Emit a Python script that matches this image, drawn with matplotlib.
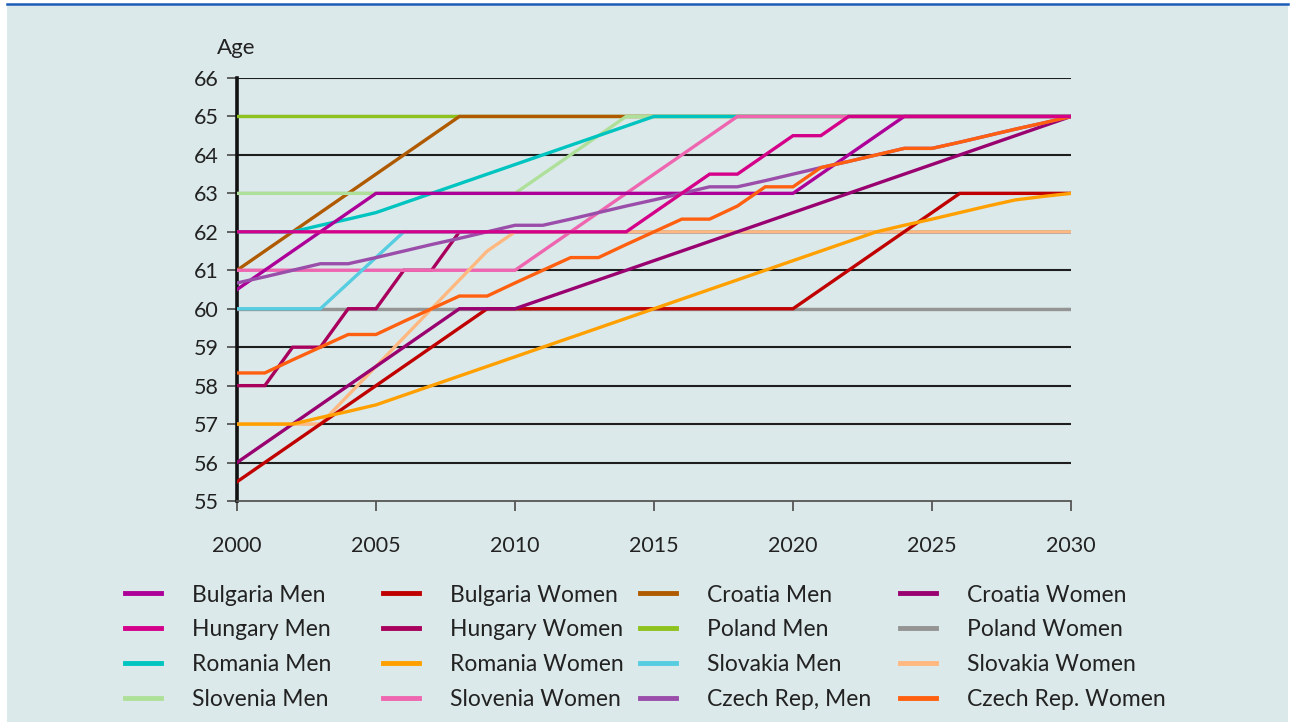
import numpy as np
import matplotlib
matplotlib.use("Agg")
import matplotlib.pyplot as plt
from matplotlib.patches import Rectangle
from matplotlib.lines import Line2D

plt.rcParams['font.family'] = ['Lato', 'DejaVu Sans']

# breakpoints (year, age)
bg_m_x = [2000, 2005, 2020, 2024, 2030]
bg_m_y = [60.5, 63, 63, 65, 65]
bg_w_x = [2000, 2009, 2020, 2026, 2030]
bg_w_y = [55.5, 60, 60, 63, 63]
hr_m_x = [2000, 2008, 2030]
hr_m_y = [61, 65, 65]
hr_w_x = [2000, 2008, 2010, 2030]
hr_w_y = [56, 60, 60, 65]
hu_m_x = [2000, 2014, 2017, 2018, 2020, 2021, 2022, 2030]
hu_m_y = [62, 62, 63.5, 63.5, 64.5, 64.5, 65, 65]
hu_w_x = [2000, 2001, 2002, 2003, 2004, 2005, 2006, 2007, 2008, 2030]
hu_w_y = [58, 58, 59, 59, 60, 60, 61, 61, 62, 62]
pl_m_x = [2000, 2030]
pl_m_y = [65, 65]
pl_w_x = [2000, 2030]
pl_w_y = [60, 60]
ro_m_x = [2000, 2002, 2003, 2004, 2005, 2006, 2007, 2015, 2030]
ro_m_y = [62, 62, 62.17, 62.33, 62.5, 62.75, 63, 65, 65]
ro_w_x = list(range(2000, 2031))
ro_w_y = [57, 57, 57, 57.17, 57.33, 57.5, 57.75, 58, 58.25, 58.5, 58.75,
          59, 59.25, 59.5, 59.75, 60, 60.25, 60.5, 60.75, 61, 61.25,
          61.5, 61.75, 62, 62.17, 62.33, 62.5, 62.67, 62.83, 62.92, 63]
sk_m_x = [2000, 2003, 2006, 2030]
sk_m_y = [60, 60, 62, 62]
sk_w_x = [2000, 2003, 2009, 2010, 2030]
sk_w_y = [57, 57, 61.5, 62, 62]
si_m_x = [2000, 2010, 2014, 2030]
si_m_y = [63, 63, 65, 65]
si_w_x = [2000, 2010, 2018, 2030]
si_w_y = [61, 61, 65, 65]
cz_m_x = list(range(2000, 2031))
cz_m_y = [60.67, 60.83, 61, 61.17, 61.17, 61.33, 61.5, 61.67, 61.83, 62, 62.17,
          62.17, 62.33, 62.5, 62.67, 62.83, 63, 63.17, 63.17, 63.33, 63.5,
          63.67, 63.83, 64, 64.17, 64.17, 64.33, 64.5, 64.67, 64.83, 65]
cz_w_x = list(range(2000, 2031))
cz_w_y = [58.33, 58.33, 58.67, 59, 59.33, 59.33, 59.67, 60, 60.33, 60.33, 60.67,
          61, 61.33, 61.33, 61.67, 62, 62.33, 62.33, 62.67, 63.17, 63.17,
          63.67, 63.83, 64, 64.17, 64.17, 64.33, 64.5, 64.67, 64.83, 65]

# legend order (row by row), colour, draw order
series = [
    ("Bulgaria Men", bg_m_x, bg_m_y, "#ac0099", 13),
    ("Bulgaria Women", bg_w_x, bg_w_y, "#c00000", 10),
    ("Croatia Men", hr_m_x, hr_m_y, "#b05a00", 3),
    ("Croatia Women", hr_w_x, hr_w_y, "#990070", 11),
    ("Hungary Men", hu_m_x, hu_m_y, "#d4008a", 16),
    ("Hungary Women", hu_w_x, hu_w_y, "#a8005c", 6),
    ("Poland Men", pl_m_x, pl_m_y, "#8ec21c", 2),
    ("Poland Women", pl_w_x, pl_w_y, "#949494", 1),
    ("Romania Men", ro_m_x, ro_m_y, "#00c4c0", 5),
    ("Romania Women", ro_w_x, ro_w_y, "#ffa000", 12),
    ("Slovakia Men", sk_m_x, sk_m_y, "#56cde0", 8),
    ("Slovakia Women", sk_w_x, sk_w_y, "#ffb880", 9),
    ("Slovenia Men", si_m_x, si_m_y, "#aee09a", 4),
    ("Slovenia Women", si_w_x, si_w_y, "#ee66b0", 7),
    ("Czech Rep, Men", cz_m_x, cz_m_y, "#9a4eaa", 14),
    ("Czech Rep. Women", cz_w_x, cz_w_y, "#ff6010", 15),
]

W, H = 1293, 722
fig = plt.figure(figsize=(W / 100, H / 100), dpi=100)
fig.patch.set_facecolor("white")
fig.patches.append(Rectangle((7 / W, 0), 1281 / W, 1 - 5 / H, transform=fig.transFigure,
                             facecolor="#dce9ea", edgecolor="none", zorder=-10))
fig.add_artist(Line2D([7 / W, 1288 / W], [1 - 4 / H, 1 - 4 / H], transform=fig.transFigure,
                      color="#1a5cb8", lw=1.8))

ax = fig.add_axes([237 / W, 1 - 501 / H, (1071 - 237) / W, (501 - 78) / H])
ax.set_facecolor("none")

handles = []
for name, xs, ys, col, z in series:
    h, = ax.plot(xs, ys, color=col, lw=2.4, zorder=3 + z * 0.1, solid_joinstyle="miter")
    handles.append((h, name))

ax.set_xlim(2000, 2030)
ax.set_ylim(55, 66)
ax.set_xticks(range(2000, 2031, 5))
ax.set_yticks(range(55, 67))
for yv in range(56, 67):
    ax.axhline(yv, color="#1e1e1e", lw=1.5, zorder=1)

for s in ["top", "right"]:
    ax.spines[s].set_visible(False)
ax.spines["left"].set_color("#111111")
ax.spines["left"].set_linewidth(2.6)
ax.spines["left"].set_zorder(2)
ax.spines["bottom"].set_color("#555555")
ax.spines["bottom"].set_linewidth(1.3)
ax.tick_params(axis="x", length=7, width=1.3, color="#555555", pad=18,
               labelsize=15.5, labelcolor="#222222")
ax.tick_params(axis="y", length=7, width=1.3, color="#555555", pad=6,
               labelsize=15.5, labelcolor="#222222")

fig.text(217 / W, 1 - 48 / H, "Age", fontsize=16, color="#222222", va="center", ha="left")

# legend: 4 columns, filled row by row
col_x = [125, 383, 640, 900]
for c in range(4):
    hs = [handles[r * 4 + c][0] for r in range(4)]
    ls = [handles[r * 4 + c][1] for r in range(4)]
    leg = fig.legend(hs, ls, loc="upper left", bbox_to_anchor=(col_x[c] / W, 1 - 584.5 / H),
                     frameon=False, fontsize=16.5, handlelength=1.55, handletextpad=1.38,
                     labelspacing=0.6, borderpad=0, borderaxespad=0)
    for t in leg.get_texts():
        t.set_color("#222222")
    for l in leg.get_lines():
        l.set_linewidth(3.5)

fig.savefig("out.png", dpi=100, facecolor=fig.get_facecolor())
